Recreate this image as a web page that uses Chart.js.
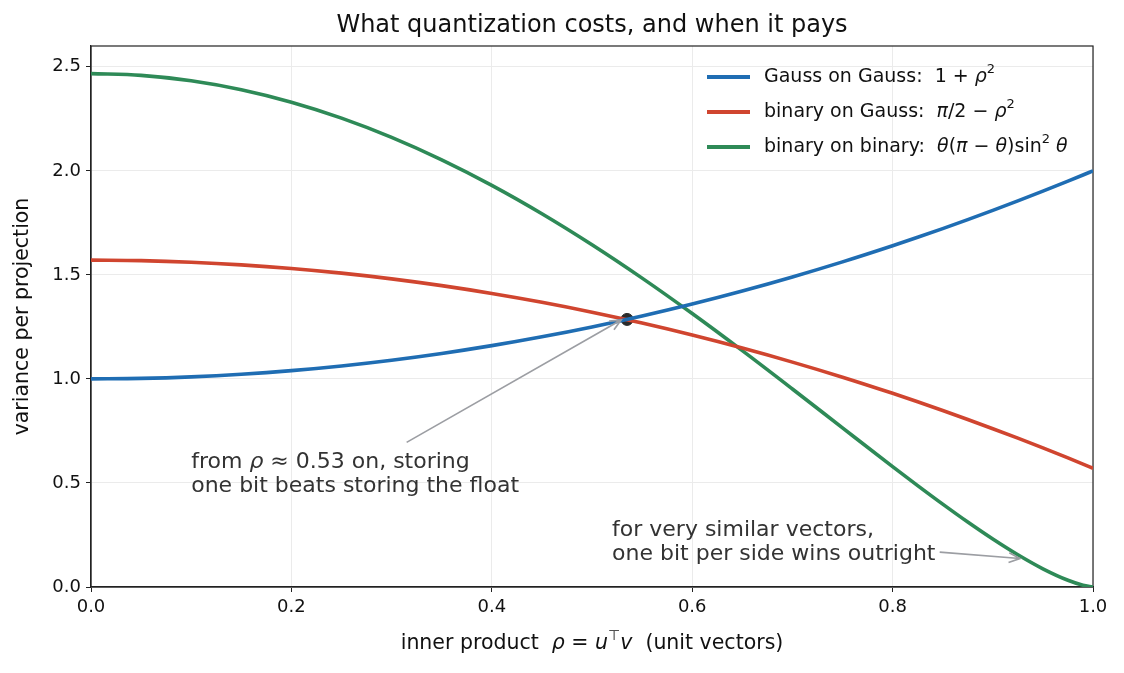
<!DOCTYPE html>
<html>
<head>
<meta charset="utf-8">
<script src="https://cdn.jsdelivr.net/npm/chart.js@4.4.1/dist/chart.umd.min.js"></script>
<style>
  html, body { margin: 0; padding: 0; background: #ffffff; }
  #wrap { width: 1124px; height: 673px; position: relative; }
</style>
</head>
<body>
<div id="wrap"><canvas id="chart" width="1124" height="673"></canvas></div>
<script>
// values
const rho = [0, 0.05, 0.1, 0.15, 0.2, 0.25, 0.3, 0.35, 0.4, 0.45, 0.5,
             0.55, 0.6, 0.65, 0.7, 0.75, 0.8, 0.825, 0.85, 0.875, 0.9, 0.925, 0.95, 0.975, 0.99, 1.0];
const gaussOnGauss = [1.0, 1.0025, 1.01, 1.0225, 1.04, 1.0625, 1.09, 1.1225, 1.16, 1.2025, 1.25,
                      1.3025, 1.36, 1.4225, 1.49, 1.5625, 1.64, 1.6806, 1.7225, 1.7656, 1.81, 1.8556, 1.9025, 1.9506, 1.9801, 2.0];
const binaryOnGauss = [1.5708, 1.5683, 1.5608, 1.5483, 1.5308, 1.5083, 1.4808, 1.4483, 1.4108, 1.3683, 1.3208,
                       1.2683, 1.2108, 1.1483, 1.0808, 1.0083, 0.9308, 0.8902, 0.8483, 0.8052, 0.7608, 0.7152, 0.6683, 0.6202, 0.5907, 0.5708];
const binaryOnBinary = [2.4674, 2.4587, 2.4328, 2.3897, 2.3298, 2.2533, 2.1608, 2.0529, 1.9304, 1.7940, 1.6449,
                        1.4845, 1.3141, 1.1358, 0.9517, 0.7648, 0.5787, 0.4874, 0.3983, 0.3122, 0.2306, 0.1549, 0.0874, 0.0323, 0.0085, 0.0];
const crossing = [0.535, 1.286];
const xTicks = [0, 0.2, 0.4, 0.6, 0.8, 1.0];
const yTicks = [0, 0.5, 1.0, 1.5, 2.0, 2.5];

// annotation anchors in data units: text position, arrow tail, arrow head
const note1 = {
  lines: [[['from ', 'n'], ['ρ', 'i'], [' ≈ 0.53 on, storing', 'n']], [['one bit beats storing the float', 'n']]],
  at: [0.1, 0.6], tail: [0.315, 0.695], head: [0.529, 1.283]
};
const note2 = {
  lines: [[['for very similar vectors,', 'n']], [['one bit per side wins outright', 'n']]],
  at: [0.52, 0.272], tail: [0.847, 0.168], head: [0.927, 0.137]
};

const COLORS = { blue: '#1f6db3', red: '#d0452f', green: '#2e8a57', dot: '#2b2b2b', arrow: '#9c9ea3', text: '#333333' };
const FONT = 'DejaVu Sans';

function pairs(xs, ys) {
  return xs.map((x, i) => ({ x: x, y: ys[i] }));
}

// draws a run of [text, style] pieces; style n = normal, i = italic, s = superscript
function drawRich(ctx, pieces, x, y, size, color, measureOnly) {
  const x0 = x;
  ctx.fillStyle = color;
  ctx.textBaseline = 'middle';
  ctx.textAlign = 'left';
  pieces.forEach(p => {
    const [t, st] = p;
    let f = size, dy = 0, style = '';
    if (st === 'i') style = 'italic ';
    if (st === 's') { f = Math.round(size * 0.7); dy = -size * 0.38; }
    ctx.font = style + f + 'px "' + FONT + '"';
    if (!measureOnly) ctx.fillText(t, x, y + dy);
    x += ctx.measureText(t).width;
  });
  return x - x0;
}

function drawArrow(ctx, x0, y0, x1, y1, color) {
  const ang = Math.atan2(y1 - y0, x1 - x0);
  const hl = 12, hw = 0.42;
  ctx.save();
  ctx.strokeStyle = color;
  ctx.lineWidth = 1.7;
  ctx.lineJoin = 'miter';
  ctx.beginPath();
  ctx.moveTo(x0, y0);
  ctx.lineTo(x1, y1);
  ctx.moveTo(x1 - hl * Math.cos(ang - hw), y1 - hl * Math.sin(ang - hw));
  ctx.lineTo(x1, y1);
  ctx.lineTo(x1 - hl * Math.cos(ang + hw), y1 - hl * Math.sin(ang + hw));
  ctx.stroke();
  ctx.restore();
}

const legendRows = [
  { color: COLORS.blue, pieces: [['Gauss on Gauss:  ', 'n'], ['1 + ', 'n'], ['ρ', 'i'], ['2', 's']] },
  { color: COLORS.red, pieces: [['binary on Gauss:  ', 'n'], ['π', 'i'], ['/2 − ', 'n'], ['ρ', 'i'], ['2', 's']] },
  { color: COLORS.green, pieces: [['binary on binary:  ', 'n'], ['θ', 'i'], ['(', 'n'], ['π', 'i'], [' − ', 'n'], ['θ', 'i'], [')sin', 'n'], ['2', 's'], [' ', 'n'], ['θ', 'i']] }
];

const decorPlugin = {
  id: 'decor',
  beforeDatasetsDraw(chart) {
    const ctx = chart.ctx, a = chart.chartArea;
    // box around plot
    ctx.save();
    ctx.strokeStyle = '#222';
    ctx.lineWidth = 1.2;
    ctx.strokeRect(a.left, a.top, a.right - a.left, a.bottom - a.top);
    ctx.restore();
  },
  afterDraw(chart) {
    const ctx = chart.ctx, a = chart.chartArea;
    const xs = chart.scales.x, ys = chart.scales.y;
    ctx.save();

    // title
    ctx.fillStyle = '#111';
    ctx.font = '24px "' + FONT + '"';
    ctx.textAlign = 'center';
    ctx.textBaseline = 'middle';
    ctx.fillText('What quantization costs, and when it pays', (a.left + a.right) / 2, 26);

    // x axis title
    const xPieces = [['inner product  ', 'n'], ['ρ', 'i'], [' = ', 'n'], ['u', 'i'], ['⊤', 's'], ['v', 'i'], ['  (unit vectors)', 'n']];
    const w = drawRich(ctx, xPieces, 0, 0, 20.5, '#111', true);
    drawRich(ctx, xPieces, (a.left + a.right) / 2 - w / 2, 644, 20.5, '#111');

    // y axis title
    ctx.save();
    ctx.translate(23, (a.top + a.bottom) / 2);
    ctx.rotate(-Math.PI / 2);
    ctx.font = '20.5px "' + FONT + '"';
    ctx.textAlign = 'center';
    ctx.textBaseline = 'middle';
    ctx.fillStyle = '#111';
    ctx.fillText('variance per projection', 0, 0);
    ctx.restore();

    // legend
    legendRows.forEach((row, i) => {
      const y = 77 + i * 35;
      ctx.strokeStyle = row.color;
      ctx.lineWidth = 4;
      ctx.beginPath();
      ctx.moveTo(707, y);
      ctx.lineTo(750, y);
      ctx.stroke();
      drawRich(ctx, row.pieces, 764, y, 19, '#111');
    });

    // annotations
    [note1, note2].forEach(n => {
      const tx = xs.getPixelForValue(n.at[0]);
      const ty = ys.getPixelForValue(n.at[1]);
      n.lines.forEach((line, j) => {
        drawRich(ctx, line, tx, ty + j * 24, 22, COLORS.text);
      });
      drawArrow(ctx,
        xs.getPixelForValue(n.tail[0]), ys.getPixelForValue(n.tail[1]),
        xs.getPixelForValue(n.head[0]), ys.getPixelForValue(n.head[1]),
        COLORS.arrow);
    });
    ctx.restore();
  }
};

function lineSet(label, ys, color) {
  return {
    label: label,
    data: pairs(rho, ys),
    borderColor: color,
    backgroundColor: color,
    borderWidth: 3.6,
    pointRadius: 0,
    cubicInterpolationMode: 'monotone',
    fill: false
  };
}

new Chart(document.getElementById('chart'), {
  type: 'line',
  data: {
    datasets: [
      lineSet('Gauss on Gauss', gaussOnGauss, COLORS.blue),
      lineSet('binary on Gauss', binaryOnGauss, COLORS.red),
      lineSet('binary on binary', binaryOnBinary, COLORS.green),
      {
        label: 'crossing',
        data: [{ x: crossing[0], y: crossing[1] }],
        showLine: false,
        pointRadius: 6,
        pointBackgroundColor: COLORS.dot,
        pointBorderColor: COLORS.dot
      }
    ]
  },
  options: {
    responsive: false,
    animation: false,
    layout: { padding: { top: 46, right: 31, bottom: 0, left: 0 } },
    plugins: {
      legend: { display: false },
      title: { display: false },
      tooltip: { enabled: false }
    },
    scales: {
      x: {
        type: 'linear',
        min: 0,
        max: 1,
        afterBuildTicks: s => { s.ticks = xTicks.map(v => ({ value: v })); },
        afterFit: s => { s.height = 86; },
        grid: { color: '#ebebeb', tickColor: '#222', tickLength: 5, lineWidth: 1 },
        border: { color: '#222', width: 1.2 },
        ticks: {
          color: '#111',
          font: { family: FONT, size: 18 },
          padding: 5,
          maxRotation: 0,
          callback: v => v.toFixed(1)
        }
      },
      y: {
        type: 'linear',
        min: 0,
        max: 2.6,
        afterBuildTicks: s => { s.ticks = yTicks.map(v => ({ value: v })); },
        afterFit: s => { s.width = 91; },
        grid: { color: '#ebebeb', tickColor: '#222', tickLength: 5, lineWidth: 1 },
        border: { color: '#222', width: 1.2 },
        ticks: {
          color: '#111',
          font: { family: FONT, size: 18 },
          padding: 5,
          callback: v => v.toFixed(1)
        }
      }
    }
  },
  plugins: [decorPlugin]
});
</script>
</body>
</html>
